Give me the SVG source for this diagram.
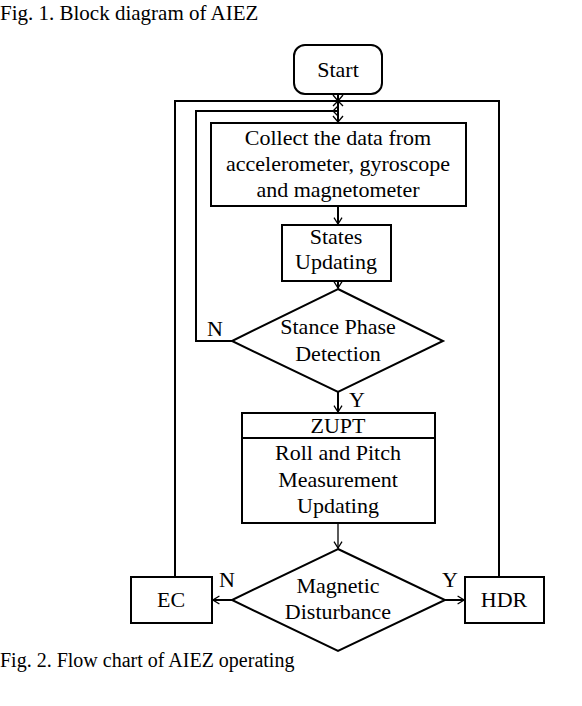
<svg xmlns="http://www.w3.org/2000/svg" width="582" height="706" viewBox="0 0 582 706">
<style>
text{font-family:"Liberation Serif","Times New Roman",serif;fill:#000;font-size:22px;text-anchor:middle}
.cap{text-anchor:start}
.box{fill:#fff;stroke:#000;stroke-width:2}
.ln{fill:none;stroke:#000;stroke-width:2}
.thin{fill:none;stroke:#000;stroke-width:1.3}
</style>
<defs>
<marker id="ah" viewBox="0 0 10 12" refX="9" refY="6" markerWidth="8" markerHeight="10" markerUnits="userSpaceOnUse" orient="auto">
<path d="M1,1 L9,6 L1,11" fill="none" stroke="#000" stroke-width="1.6"/>
</marker>
</defs>
<rect width="582" height="706" fill="#fff"/>
<text class="cap" x="0" y="20" style="font-size:21px">Fig. 1. Block diagram of AIEZ</text>
<text class="cap" x="0" y="667" style="font-size:20px">Fig. 2. Flow chart of AIEZ operating</text>

<g id="connectors">
<polyline class="ln" points="175,577 175,101 499,101 499,577"/>
<polyline class="ln" points="232,341 196,341 196,111 338,111"/>
<line class="ln" x1="338" y1="94" x2="338" y2="122"/>
<path class="thin" d="M333,95 L338,101 L343,95 M333,106 L338,101 L343,106 M338,106 L333,111 L338,116 M333,116 L338,122 L343,116"/>
<line class="ln" x1="338" y1="206" x2="338" y2="224" marker-end="url(#ah)"/>
<line class="ln" x1="338" y1="281" x2="338" y2="288" marker-end="url(#ah)"/>
<line class="ln" x1="338" y1="392" x2="338" y2="412" marker-end="url(#ah)"/>
<line class="thin" x1="338" y1="523" x2="338" y2="548" marker-end="url(#ah)"/>
<line class="ln" x1="232" y1="600" x2="213" y2="600" marker-end="url(#ah)"/>
<line class="ln" x1="445" y1="600" x2="464" y2="600" marker-end="url(#ah)"/>
<text x="215" y="336">N</text>
<text x="357" y="407">Y</text>
<text x="227" y="587">N</text>
<text x="450" y="587">Y</text>
</g>

<g id="start">
<rect class="box" x="294" y="45" width="88" height="49" rx="11"/>
<text x="338" y="77">Start</text>
</g>
<g id="collect">
<rect class="box" x="211" y="123" width="255" height="83"/>
<text x="338" y="145">Collect the data from</text>
<text x="338" y="171">accelerometer, gyroscope</text>
<text x="338" y="197">and magnetometer</text>
</g>
<g id="states">
<rect class="box" x="282" y="225" width="109" height="56"/>
<text x="336" y="244">States</text>
<text x="336" y="269">Updating</text>
</g>
<g id="stance">
<polygon class="box" points="338,289 443,341 338,392 232,341"/>
<text x="338" y="334">Stance Phase</text>
<text x="338" y="361">Detection</text>
</g>
<g id="zupt">
<rect class="box" x="242" y="413" width="193" height="110"/>
<line class="ln" x1="242" y1="438" x2="435" y2="438"/>
<text x="338" y="433">ZUPT</text>
<text x="338" y="460">Roll and Pitch</text>
<text x="338" y="487">Measurement</text>
<text x="338" y="513">Updating</text>
</g>
<g id="magnetic">
<polygon class="box" points="338,549 445,600 338,651 232,600"/>
<text x="338" y="593">Magnetic</text>
<text x="338" y="619">Disturbance</text>
</g>
<g id="ec">
<rect class="box" x="131" y="577" width="81" height="46"/>
<text x="171" y="607">EC</text>
</g>
<g id="hdr">
<rect class="box" x="465" y="577" width="79" height="46"/>
<text x="504" y="607">HDR</text>
</g>
</svg>
